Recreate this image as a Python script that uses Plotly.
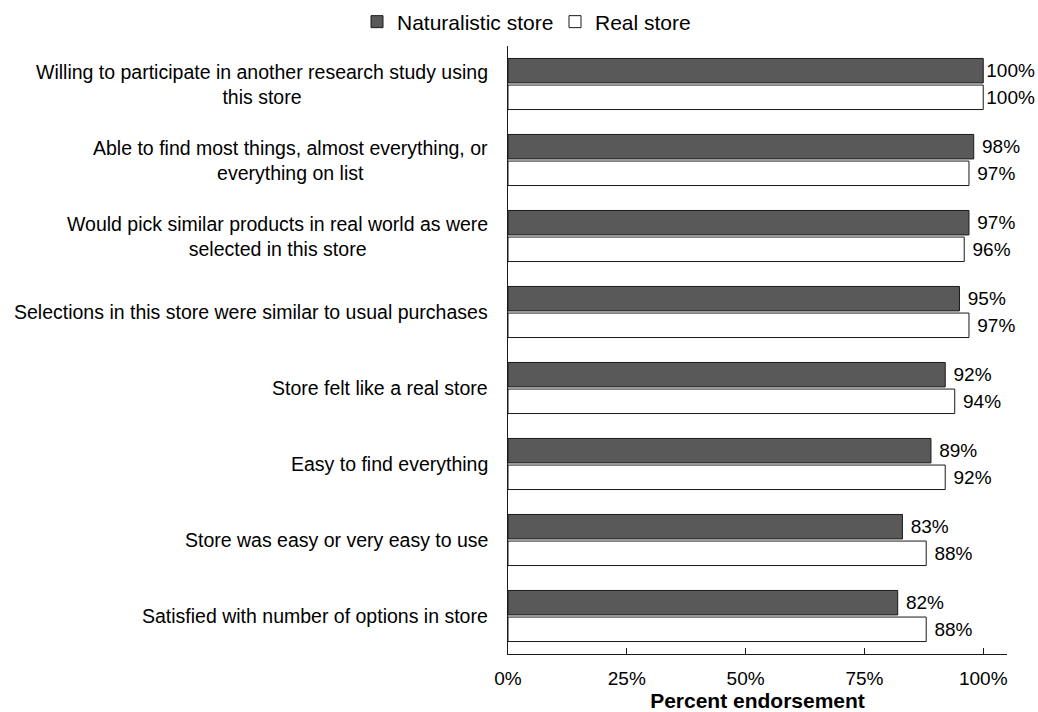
import plotly.graph_objects as go

categories = [
    "Willing to participate in another research study using<br>this store",
    "Able to find most things, almost everything, or<br>everything on list",
    "Would pick similar products in real world as were<br>selected in this store",
    "Selections in this store were similar to usual purchases",
    "Store felt like a real store",
    "Easy to find everything",
    "Store was easy or very easy to use",
    "Satisfied with number of options in store",
]
naturalistic = [100, 98, 97, 95, 92, 89, 83, 82]
real = [100, 97, 96, 97, 94, 92, 88, 88]
x_ticks = [0, 25, 50, 75, 100]
x_tick_labels = ["0%", "25%", "50%", "75%", "100%"]

FONT = "Liberation Sans, Arial, sans-serif"
ids = list(range(len(categories)))


def labels(vals):
    return [("" if v >= 100 else "\u00a0") + f"{v}%" for v in vals]


fig = go.Figure()
fig.add_trace(go.Bar(
    name="Naturalistic store", y=ids, x=naturalistic, orientation="h",
    marker=dict(color="#595959", line=dict(color="#1a1a1a", width=1)),
    text=labels(naturalistic), textposition="outside", cliponaxis=False,
    constraintext="none", textfont=dict(size=19, color="#000000", family=FONT),
    legend="legend", showlegend=True,
))
fig.add_trace(go.Bar(
    name="Real store", y=ids, x=real, orientation="h",
    marker=dict(color="#ffffff", line=dict(color="#1a1a1a", width=1)),
    text=labels(real), textposition="outside", cliponaxis=False,
    constraintext="none", textfont=dict(size=19, color="#000000", family=FONT),
    legend="legend2", showlegend=True,
))

for i, c in enumerate(categories):
    fig.add_annotation(
        x=0, xref="paper", y=i, yref="y", text=c, showarrow=False,
        xanchor="right", align="center", xshift=-18,
        font=dict(size=19.5, color="#000000", family=FONT),
    )

leg_common = dict(
    orientation="h", xref="container", yref="container",
    yanchor="middle", y=1 - 22 / 712, xanchor="left",
    font=dict(size=21, color="#000000", family=FONT),
    bgcolor="rgba(0,0,0,0)",
)

fig.update_layout(
    width=1038, height=712,
    margin=dict(l=507.5, r=30.5, t=46, b=58, autoexpand=False),
    paper_bgcolor="white", plot_bgcolor="white",
    showlegend=True,
    barmode="group", bargap=0.30, bargroupgap=0.08,
    font=dict(family=FONT, size=19, color="#000000"),
    legend=dict(x=357 / 1038, **leg_common),
    legend2=dict(x=555 / 1038, **leg_common),
    xaxis=dict(
        range=[0, 105], tickvals=x_ticks, ticktext=x_tick_labels,
        showgrid=False, zeroline=False, showline=True, linecolor="#1a1a1a",
        linewidth=1, ticks="inside", ticklen=6, tickcolor="#1a1a1a",
        tickfont=dict(size=19), ticklabelstandoff=7, automargin=False,
        title=dict(text="<b>Percent endorsement</b>", font=dict(size=21), standoff=3),
    ),
    yaxis=dict(
        tickvals=ids, showticklabels=False, autorange="reversed",
        range=[-0.5, len(categories) - 0.5], automargin=False,
        showgrid=False, zeroline=False, showline=True, linecolor="#1a1a1a",
        linewidth=1, ticks="",
    ),
)

fig.write_html("out.html")
